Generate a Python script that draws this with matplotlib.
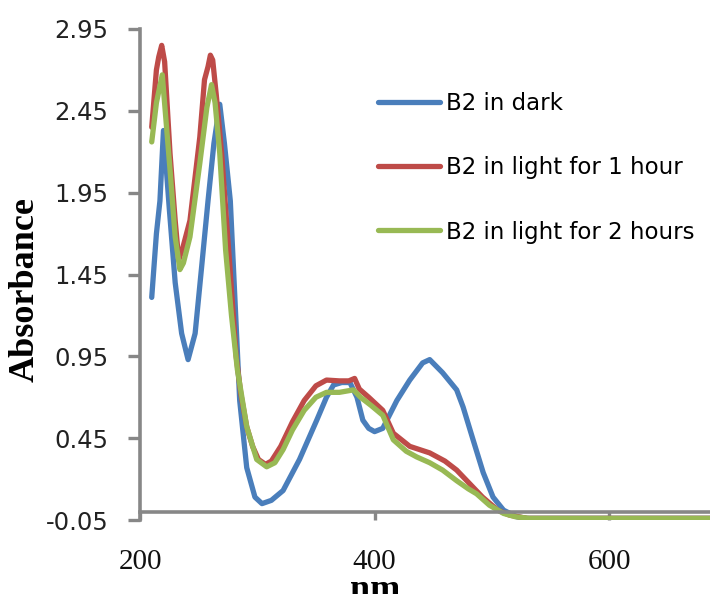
import matplotlib
matplotlib.use("Agg")
import matplotlib.pyplot as plt

# ---- data ----
dark_x = [210, 214, 217, 220, 225, 230, 235.5, 241, 247, 252.6, 258, 263, 268, 272, 277, 281, 285,
          291, 298, 304, 312, 322, 336, 350.7, 359, 365, 372, 379, 385, 390, 395, 400, 407, 419, 430,
          441, 447, 458, 470, 475.5, 484, 492.6, 501, 510, 521, 530, 560, 600, 650, 700]
dark_y = [1.31, 1.70, 1.90, 2.33, 1.85, 1.40, 1.09, 0.93, 1.09, 1.50, 1.90, 2.25, 2.49, 2.25, 1.90,
          1.29, 0.68, 0.27, 0.09, 0.05, 0.07, 0.13, 0.32, 0.56, 0.70, 0.775, 0.79, 0.79, 0.70, 0.56,
          0.51, 0.49, 0.51, 0.68, 0.805, 0.91, 0.93, 0.85, 0.745, 0.64, 0.44, 0.24, 0.09, 0.01, -0.03,
          -0.04, -0.04, -0.04, -0.04, -0.04]

h1_x = [210, 214, 216, 218.5, 221, 225.6, 230, 233, 236, 242.6, 251, 255, 258, 260, 262, 265, 269.6,
        276.8, 282, 286, 291, 296, 301, 307, 312, 320, 330, 340, 350, 359, 370, 378, 383, 387, 395,
        407, 416, 430, 447, 460, 470, 480, 492, 505, 515, 530, 560, 600, 650, 700]
h1_y = [2.35, 2.70, 2.78, 2.85, 2.75, 2.19, 1.78, 1.54, 1.60, 1.78, 2.29, 2.64, 2.72, 2.79, 2.76,
        2.55, 2.19, 1.48, 0.95, 0.72, 0.52, 0.40, 0.32, 0.29, 0.31, 0.40, 0.55, 0.68, 0.77, 0.805,
        0.80, 0.80, 0.815, 0.75, 0.70, 0.62, 0.48, 0.40, 0.36, 0.31, 0.255, 0.18, 0.09, 0.01, -0.02,
        -0.04, -0.04, -0.04, -0.04, -0.04]

h2_x = [210, 214, 219, 225.6, 230, 234, 237, 242.6, 251, 257, 261, 264, 268, 273, 278, 283, 291,
        299.5, 308, 315, 322, 330, 340, 350, 359, 370, 382, 388, 397, 407, 416, 427, 436, 447, 458,
        470, 480, 487, 498, 510, 520, 532, 560, 600, 650, 700]
h2_y = [2.26, 2.50, 2.67, 2.09, 1.68, 1.48, 1.52, 1.68, 2.13, 2.47, 2.61, 2.50, 2.19, 1.60, 1.20,
        0.87, 0.52, 0.32, 0.275, 0.30, 0.38, 0.50, 0.62, 0.70, 0.73, 0.73, 0.745, 0.70, 0.65, 0.59,
        0.44, 0.37, 0.335, 0.30, 0.255, 0.19, 0.14, 0.11, 0.04, -0.01, -0.03, -0.04, -0.04, -0.04,
        -0.04, -0.04]

labels = ["B2 in dark", "B2 in light for 1 hour", "B2 in light for 2 hours"]
colors = ["#4A7EBB", "#BE4B48", "#98B954"]
yticks = [-0.05, 0.45, 0.95, 1.45, 1.95, 2.45, 2.95]
ytick_labels = ["-0.05", "0.45", "0.95", "1.45", "1.95", "2.45", "2.95"]
xticks = [200, 400, 600]
xtick_labels = ["200", "400", "600"]

W, H = 710, 594
fig = plt.figure(figsize=(W / 100, H / 100), dpi=100)
ax = fig.add_axes([140 / W, 1 - 520 / H, 1 - 140 / W, (520 - 29) / H])

for xs, ys, c, lab in zip([dark_x, h1_x, h2_x], [dark_y, h1_y, h2_y], colors, labels):
    ax.plot(xs, ys, color=c, lw=3.8, label=lab, solid_capstyle="round", solid_joinstyle="round")

ax.set_xlim(200, 686)
ax.set_ylim(-0.05, 2.95)

spine_col = "#878787"
for s in ["top", "right"]:
    ax.spines[s].set_visible(False)
ax.spines["bottom"].set_position(("data", 0))
for s in ["left", "bottom"]:
    ax.spines[s].set_color(spine_col)
    ax.spines[s].set_linewidth(2.6)

ax.set_yticks(yticks)
ax.set_yticklabels(ytick_labels, fontsize=17.5, family="DejaVu Sans", color="#222222")
ax.set_xticks(xticks)
ax.set_xticklabels(xtick_labels, fontsize=21, family="Liberation Serif", color="#111111")
ax.tick_params(axis="y", direction="out", length=8.6, width=2.4, color=spine_col, pad=14)
ax.tick_params(axis="x", direction="out", length=5.5, width=2.4, color=spine_col, pad=21)

ax.set_ylabel("Absorbance", fontsize=26, family="Liberation Serif", fontweight="bold")
ax.yaxis.label.set_va("center")
ax.yaxis.set_label_coords((25 - 140) / 570, (520 - 290) / 491)
ax.set_xlabel("nm", fontsize=26, family="Liberation Serif", fontweight="bold")
ax.xaxis.label.set_va("baseline")
ax.xaxis.set_label_coords((375 - 140) / 570, -(599 - 520) / 491)

leg = ax.legend(loc="upper left", bbox_to_anchor=(378 / W, 1 - 92 / H),
                bbox_transform=fig.transFigure, frameon=False,
                handlelength=2.7, handletextpad=0.25, labelspacing=1.8, borderpad=0,
                borderaxespad=0, prop={"family": "DejaVu Sans", "size": 16.5})

fig.savefig("out.png", dpi=100)
